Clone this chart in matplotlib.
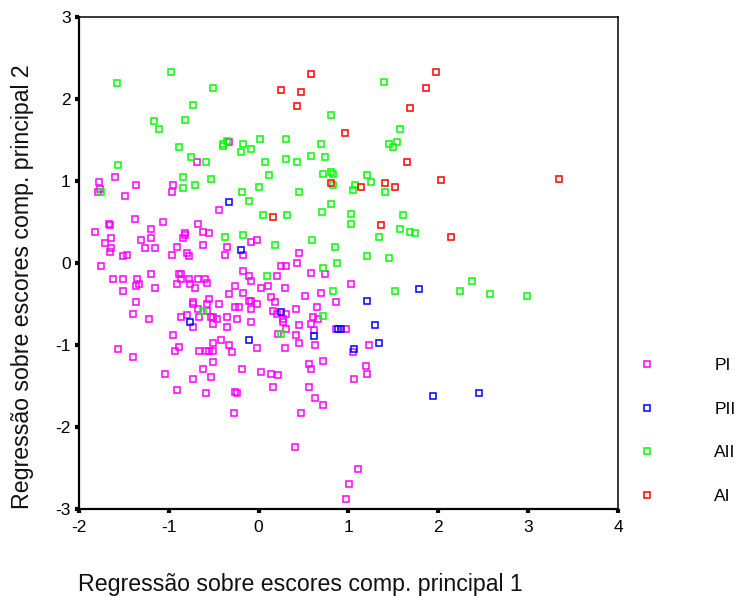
#!/usr/bin/python3

from matplotlib import pyplot as plt

plt.rcParams['font.family'] = ['Liberation Sans', 'DejaVu Sans']
plt.rcParams['axes.unicode_minus'] = False

# values
pi_x = [-1.78, -1.77, -1.79, -1.60, -1.37, -1.49, -0.95, -0.96, -0.69, -0.33, -0.44, -1.67, -1.65, -1.82, -1.38, -1.20,
        -1.06, -0.68, -0.62, -0.55, -0.82, -0.82, -0.84, -1.64, -1.71, -1.31, -1.20, -1.26, -1.15, -0.91, -0.62, -1.64,
        -1.65, -1.51, -1.47, -0.96, -0.80, -0.78, -0.35, -0.37, -0.17, -0.08, -0.02, 0.45, 0.43, 0.25, 0.30, -1.75,
        -0.17, -0.11, -0.08, 0.20, 0.58, 0.74, 1.03, -1.62, -1.51, -1.35, -1.33, -1.37, -1.20, -1.15, -1.51, -0.89,
        -0.86, -0.91, -0.86, -0.78, -0.76, -0.71, -0.68, -0.60, -0.57, -0.26, -0.17, -0.33, 0.03, 0.10, 0.29, 0.69,
        0.52, 0.14, -0.55, -0.11, -0.09, 0.18, -0.44, -0.02, -0.73, -0.73, -0.57, -1.37, 0.86, -0.26, -0.22, -0.08,
        0.65, 0.42, -0.68, -0.57, 0.16, 0.20, 0.30, -1.40, -0.80, -0.86, -0.66, -0.53, -0.51, -0.46, -0.35, -0.24,
        -1.22, 0.27, 0.27, -0.08, -0.51, 0.60, 0.66, 0.58, -0.73, -0.35, 0.30, 0.45, 0.62, 0.86, 0.97, -0.95,
        0.42, 0.22, -0.89, -0.42, -0.51, -0.33, 0.45, 0.63, -0.02, 0.29, -0.93, -0.66, -0.59, -0.55, -0.51, -0.30,
        -1.57, -1.40, 1.05, 0.72, -0.51, 0.56, 0.58, -0.62, -0.19, -1.04, 0.03, 0.14, 0.22, -0.53, -0.73, 1.06,
        0.56, 0.16, -0.91, -0.59, -0.26, -0.24, 0.63, 0.72, 0.47, -0.28, 0.40, 1.11, 1.01, 0.97, 1.23, 1.19, 1.21]
pi_y = [0.99, 0.90, 0.86, 1.05, 0.95, 0.82, 0.95, 0.86, 1.23, 1.47, 0.65, 0.48, 0.46, 0.38, 0.54, 0.41,
        0.50, 0.48, 0.38, 0.36, 0.36, 0.34, 0.30, 0.30, 0.24, 0.28, 0.30, 0.18, 0.18, 0.20, 0.22, 0.18,
        0.14, 0.08, 0.10, 0.10, 0.12, 0.08, 0.20, 0.10, 0.10, 0.26, 0.28, 0.12, 0.00, -0.04, -0.04, -0.04,
        -0.10, -0.16, -0.22, -0.16, -0.12, -0.14, -0.26, -0.20, -0.20, -0.20, -0.26, -0.28, -0.14, -0.30, -0.34, -0.14,
        -0.14, -0.26, -0.20, -0.20, -0.26, -0.30, -0.20, -0.20, -0.24, -0.28, -0.36, -0.38, -0.30, -0.28, -0.30, -0.36,
        -0.40, -0.42, -0.44, -0.46, -0.46, -0.48, -0.50, -0.50, -0.48, -0.50, -0.50, -0.48, -0.48, -0.54, -0.54, -0.56,
        -0.54, -0.56, -0.56, -0.58, -0.58, -0.62, -0.62, -0.62, -0.64, -0.66, -0.66, -0.66, -0.66, -0.68, -0.66, -0.68,
        -0.68, -0.68, -0.72, -0.72, -0.74, -0.66, -0.68, -0.74, -0.78, -0.78, -0.80, -0.76, -0.82, -0.80, -0.80, -0.88,
        -0.88, -0.86, -1.02, -0.94, -0.98, -1.00, -0.98, -1.00, -1.04, -1.04, -1.07, -1.07, -1.07, -1.07, -1.07, -1.09,
        -1.05, -1.15, -1.09, -1.20, -1.21, -1.23, -1.29, -1.29, -1.29, -1.35, -1.33, -1.35, -1.37, -1.39, -1.41, -1.41,
        -1.51, -1.51, -1.55, -1.59, -1.57, -1.59, -1.65, -1.73, -1.83, -1.83, -2.24, -2.51, -2.70, -2.88, -1.00, -1.26, -1.35]

pii_x = [-0.33, -0.20, -0.76, -0.11, 0.25, 0.62, 0.88, 0.92, 1.06, 1.21, 1.79, 1.30, 1.34, 1.94, 2.45]
pii_y = [0.74, 0.16, -0.72, -0.94, -0.60, -0.89, -0.80, -0.80, -1.05, -0.46, -0.32, -0.76, -0.98, -1.62, -1.58]

aii_x = [-0.98, -1.58, -0.51, -0.73, -0.82, -1.17, -1.11, -0.89, -0.75, -0.59, -0.40, -0.40, -0.35, -0.17, -0.20, -0.09,
         0.01, 0.30, 0.69, 0.58, 0.74, 0.07, 0.30, 0.43, 0.81, 0.72, 0.81, 0.83, 0.12, 0.00, -1.57, -0.84,
         -0.84, -0.71, -0.53, -1.75, -0.19, -0.11, 0.45, 0.83, 1.07, 1.05, 0.81, 0.71, 0.05, 0.32, 1.03, 1.03,
         -0.37, -0.17, 0.59, 0.18, 0.85, 0.87, 0.72, 1.39, 1.57, 1.45, 1.54, 1.50, 1.21, 1.25, 1.41, 1.61,
         1.57, 1.68, 1.74, 1.34, 1.21, 1.45, 1.52, 2.24, 2.37, 2.57, 2.99, 0.09, 0.83, -0.62, 0.72, 0.25]
aii_y = [2.33, 2.19, 2.13, 1.93, 1.75, 1.73, 1.63, 1.41, 1.29, 1.23, 1.45, 1.43, 1.49, 1.45, 1.35, 1.39,
         1.51, 1.51, 1.45, 1.31, 1.29, 1.23, 1.27, 1.23, 1.81, 1.09, 1.11, 1.09, 1.07, 0.93, 1.19, 1.05,
         0.91, 0.95, 1.03, 0.86, 0.86, 0.76, 0.87, 0.95, 0.95, 0.89, 0.72, 0.62, 0.58, 0.58, 0.60, 0.48,
         0.32, 0.34, 0.28, 0.22, 0.20, 0.00, -0.06, 2.21, 1.63, 1.45, 1.47, 1.41, 1.07, 0.99, 0.87, 0.58,
         0.41, 0.38, 0.36, 0.32, 0.08, 0.06, -0.34, -0.34, -0.22, -0.38, -0.40, -0.16, -0.34, -0.58, -0.65, -0.86]

ai_x = [0.58, 0.25, 0.47, 0.43, 0.96, 0.81, 0.16, 1.97, 1.86, 1.68, 1.65, 1.14, 1.41, 1.52, 2.03, 3.34, 1.36, 2.14]
ai_y = [2.30, 2.11, 2.09, 1.91, 1.59, 0.98, 0.56, 2.33, 2.13, 1.89, 1.23, 0.93, 0.98, 0.93, 1.01, 1.03, 0.46, 0.32]

group_names = ['PI', 'PII', 'AII', 'AI']
group_colors = ['#ff00ff', '#0000ff', '#00ff00', '#ff0000']
x_ticks = [-2, -1, 0, 1, 2, 3, 4]
y_ticks = [-3, -2, -1, 0, 1, 2, 3]

fig = plt.figure()
fig.set_size_inches(7.36, 5.96)
ax1 = fig.add_axes([79 / 736, 1 - 509 / 596, (618 - 79) / 736, (509 - 17) / 596])

handles = []
for xs, ys, name, col in zip([pi_x, pii_x, aii_x, ai_x], [pi_y, pii_y, aii_y, ai_y], group_names, group_colors):
    line, = ax1.plot(xs, ys, linestyle='none', marker='s', markersize=4.6, markerfacecolor='none',
                     markeredgecolor=col, markeredgewidth=1.1, label=name, clip_on=False)
    handles.append(line)

ax1.set_xlim(-2, 4)
ax1.set_ylim(-3, 3)
ax1.set_xticks(x_ticks)
ax1.set_yticks(y_ticks)
ax1.tick_params(labelsize=12.5, length=3, width=3, color='black')
ax1.tick_params(axis='x', pad=5)
ax1.tick_params(axis='y', pad=3)
ax1.spines['left'].set_linewidth(1.6)
ax1.spines['bottom'].set_linewidth(1.6)
ax1.spines['top'].set_linewidth(1.1)
ax1.spines['right'].set_linewidth(1.1)

fig.text(300 / 736, 1 - 584 / 596, 'Regressão sobre escores comp. principal 1', fontsize=16.7,
         ha='center', va='center', color='#111111')
fig.text(23 / 736, 1 - 287 / 596, 'Regressão sobre escores comp. principal 2', fontsize=16.7,
         ha='center', va='center', rotation=90, color='#111111')

ax1.legend(handles=handles, loc='center left', bbox_to_anchor=(631 / 736, 1 - 431 / 596),
           bbox_transform=fig.transFigure, frameon=False, fontsize=12.5, numpoints=1,
           handlelength=1.8, handletextpad=3.0, labelspacing=1.65, borderpad=0, borderaxespad=0)

plt.savefig('out.png', dpi=100)
plt.close()
